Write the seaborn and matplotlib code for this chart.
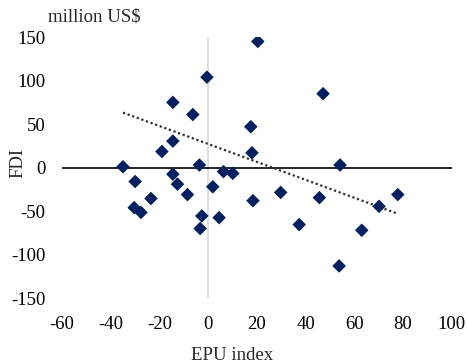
import numpy as np
import pandas as pd
import matplotlib
matplotlib.use("Agg")
import matplotlib.pyplot as plt
import seaborn as sns

# EPU index vs FDI (million US$)
epu = [-35, -14.5, -6.3, -0.5, -19, -14.5, -3.6, -14.5, 6.3, 10.1,
       20.4, 47.2, 17.5, 18.0, 54.2,
       -30, -12.6, -8.5, -23.5, -30.4, -27.6, 1.9, -2.6, 4.5, -3.3,
       18.4, 29.8, 45.7, 37.4, 63.1, 53.8, 70.2, 77.9]
fdi = [1, 75, 61, 104, 18.5, 30.5, 3, -7.5, -4.6, -6.6,
       145, 85, 47, 17, 3,
       -16, -19, -31, -35.5, -46, -51.5, -22, -55.5, -57.5, -70,
       -38, -28.5, -34.5, -65.5, -72, -113, -44.5, -31]

# linear trend line coefficients
trend_slope = -1.03
trend_intercept = 27.2

x_ticks = [-60, -40, -20, 0, 20, 40, 60, 80, 100]
y_ticks = [-150, -100, -50, 0, 50, 100, 150]

df = pd.DataFrame({"EPU index": epu, "FDI": fdi})

sns.set_theme(style="white")
plt.rcParams["font.family"] = ["Liberation Serif", "DejaVu Serif"]
plt.rcParams["axes.unicode_minus"] = False

fig = plt.figure(figsize=(4.67, 3.64), dpi=100)
ax = fig.add_axes([0.133, 0.181, 0.834, 0.717])

# axis lines through the origin
ax.axvline(0, color="#d9d9d9", lw=1.2, zorder=1)
ax.axhline(0, color="black", lw=1.2, zorder=1)

sns.scatterplot(data=df, x="EPU index", y="FDI", marker="D", s=48,
                color="#002060", edgecolor="none", ax=ax, zorder=3)

xs = np.array([df["EPU index"].min(), df["EPU index"].max()])
ax.plot(xs, trend_slope * xs + trend_intercept, color="#303030", lw=1.6,
        linestyle=(0, (1, 1.2)), zorder=2)

ax.set_xlim(-60, 100)
ax.set_ylim(-150, 150)
ax.set_xticks(x_ticks)
ax.set_yticks(y_ticks)
ax.tick_params(axis="both", length=0, labelsize=13.5, colors="black")
ax.tick_params(axis="x", pad=13)
ax.tick_params(axis="y", pad=12)
for s in ax.spines.values():
    s.set_visible(False)

ax.set_xlabel("")
ax.set_ylabel("")
fig.text(0.496, 0.022, "EPU index", ha="center", va="center", fontsize=13.5)
fig.text(0.039, 0.551, "FDI", ha="center", va="center", rotation=90, fontsize=13.5)
fig.text(0.103, 0.953, "million US$", ha="left", va="center", fontsize=13.5)

fig.savefig("out.png", dpi=100)
